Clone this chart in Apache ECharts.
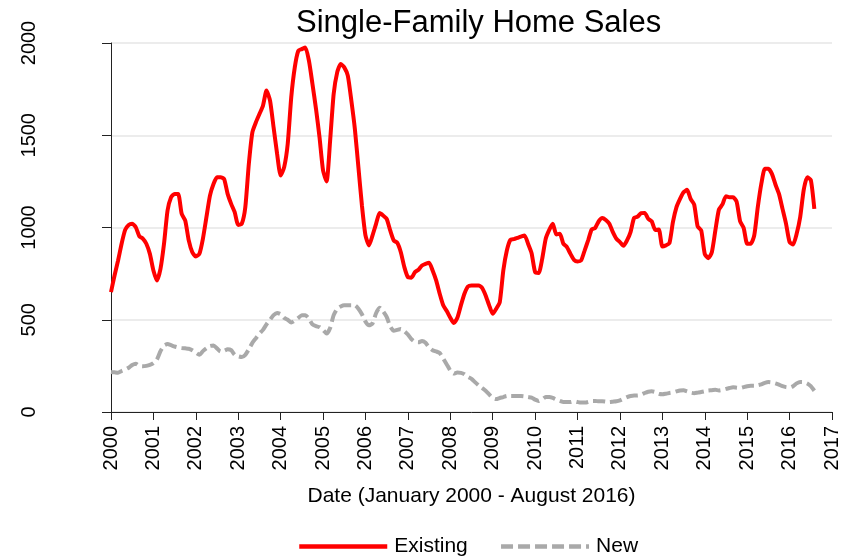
<!DOCTYPE html>
<html>
<head>
<meta charset="utf-8">
<script src="https://cdn.jsdelivr.net/npm/echarts@6/dist/echarts.min.js"></script>
<style>
  html, body { margin: 0; padding: 0; background: #fff; }
  #chart { width: 846px; height: 556px; }
</style>
</head>
<body>
<div id="chart"></div>
<script>
// monthly, January 2000 - August 2016 (thousands)
var startYear = 2000;
var existingSales = [
  650, 740, 821, 912, 987, 1014, 1020, 1002, 953, 940, 912, 857,
  767, 713, 776, 912, 1092, 1164, 1182, 1182, 1074, 1038, 930, 866,
  843, 857, 939, 1056, 1173, 1236, 1272, 1272, 1263, 1182, 1128, 1083,
  1014, 1020, 1110, 1345, 1516, 1570, 1615, 1660, 1742, 1688, 1543, 1399,
  1282, 1327, 1453, 1706, 1868, 1958, 1967, 1976, 1904, 1778, 1643, 1489,
  1309, 1250, 1471, 1724, 1841, 1886, 1868, 1823, 1688, 1534, 1327, 1119,
  957, 903, 957, 1020, 1078, 1065, 1047, 984, 930, 917, 866, 785,
  731, 728, 758, 771, 794, 803, 809, 767, 713, 641, 578, 547,
  511, 482, 511, 578, 641, 680, 686, 686, 686, 673, 632, 578,
  532, 560, 596, 767, 875, 933, 937, 944, 951, 957, 912, 861,
  758, 753, 830, 939, 987, 1020, 962, 966, 912, 894, 857, 825,
  816, 821, 875, 930, 989, 998, 1034, 1052, 1041, 1020, 975, 939,
  921, 901, 930, 975, 1052, 1059, 1078, 1079, 1047, 1033, 987, 989,
  897, 903, 915, 1030, 1110, 1155, 1191, 1204, 1155, 1125, 1005, 984,
  857, 834, 866, 984, 1097, 1125, 1170, 1164, 1164, 1141, 1034, 998,
  912, 912, 957, 1110, 1236, 1318, 1318, 1291, 1233, 1182, 1101, 1020,
  921, 908, 966, 1056, 1204, 1272, 1258, 1101
];
var newSales = [
  217, 215, 213, 222, 230, 240, 255, 262, 250, 248, 250, 255,
  265, 285, 330, 360, 368, 362, 355, 350, 347, 345, 343, 335,
  322, 310, 330, 345, 358, 360, 345, 328, 332, 340, 335, 310,
  302, 298, 310, 340, 375, 400, 425, 445, 475, 500, 525, 537,
  530, 510, 500, 485, 495, 510, 525, 525, 505, 475, 465, 460,
  445, 425, 455, 525, 560, 572, 578, 578, 578, 578, 560, 530,
  490, 470, 480, 535, 565, 545, 515, 465, 440, 445, 450, 438,
  420, 395, 380, 378, 385, 375, 350, 335, 328, 320, 290, 258,
  225, 208, 214, 212, 205, 190, 180, 162, 145, 130, 115, 95,
  76, 70, 76, 81, 87, 87, 87, 87, 87, 85, 81, 78,
  67, 60, 69, 81, 81, 76, 67, 60, 54, 54, 54, 58,
  54, 51, 51, 54, 60, 60, 58, 58, 56, 54, 56, 58,
  63, 72, 81, 87, 90, 90, 94, 103, 110, 112, 108, 99,
  96, 99, 103, 106, 112, 117, 118, 112, 105, 102, 105, 108,
  112, 117, 118, 120, 117, 120, 125, 130, 134, 132, 130, 135,
  140, 142, 142, 145, 150, 158, 162, 160, 155, 148, 140, 135,
  133, 140, 155, 163, 162, 155, 140, 115
];
var seriesNames = ["Existing", "New"];

function toPoints(vals) {
  return vals.map(function (v, i) { return [startYear + i / 12, v]; });
}

var font = "'Liberation Sans', Arial, sans-serif";
var myChart = echarts.init(document.getElementById("chart"));
var option = {
  animation: false,
  backgroundColor: "#fff",
  textStyle: { fontFamily: font, color: "#000" },
  title: {
    text: "Single-Family Home Sales",
    left: 291,
    top: 3,
    textStyle: { fontFamily: font, fontSize: 31, fontWeight: "normal", color: "#000" },
  },
  grid: { left: 111, right: 14, top: 43, bottom: 144 },
  legend: {
    data: seriesNames,
    left: 292,
    top: 531,
    itemWidth: 88,
    itemHeight: 22,
    itemGap: 31,
    itemStyle: { opacity: 0 },
    lineStyle: { width: 4.5 },
    textStyle: { fontFamily: font, fontSize: 21, color: "#000", padding: [0, 0, 0, 2] },
  },
  xAxis: {
    type: "value",
    min: 2000,
    max: 2017,
    interval: 1,
    name: "Date (January 2000 - August 2016)",
    nameLocation: "middle",
    nameGap: 74,
    nameTextStyle: { fontFamily: font, fontSize: 21, color: "#000" },
    axisLine: { onZero: false, lineStyle: { color: "#222", width: 1 } },
    axisTick: { length: 8, lineStyle: { color: "#222" } },
    axisLabel: {
      rotate: 90,
      margin: 14,
      fontFamily: font,
      fontSize: 20,
      color: "#000",
      formatter: function (v) { return String(v); },
    },
    splitLine: { show: false },
  },
  yAxis: {
    type: "value",
    min: 0,
    max: 2000,
    interval: 500,
    axisLine: { show: true, lineStyle: { color: "#222", width: 1 } },
    axisTick: { show: true, length: 9, lineStyle: { color: "#222" } },
    axisLabel: {
      rotate: 90,
      margin: 72,
      fontFamily: font,
      fontSize: 20,
      color: "#000",
      formatter: function (v) { return String(v); },
    },
    splitLine: { lineStyle: { color: "#e6e6e6", width: 1.5 } },
  },
  series: [
    {
      name: seriesNames[0],
      type: "line",
      data: toPoints(existingSales),
      showSymbol: false,
      symbol: "none",
      smooth: 0.2,
      lineStyle: { color: "#ff0000", width: 4 },
      itemStyle: { color: "#ff0000" },
      z: 3,
    },
    {
      name: seriesNames[1],
      type: "line",
      data: toPoints(newSales),
      showSymbol: false,
      symbol: "none",
      smooth: 0.2,
      lineStyle: { color: "#a9a9a9", width: 4, type: [12, 5] },
      itemStyle: { color: "#a9a9a9" },
      z: 2,
    },
  ],
};
myChart.setOption(option);
</script>
</body>
</html>
